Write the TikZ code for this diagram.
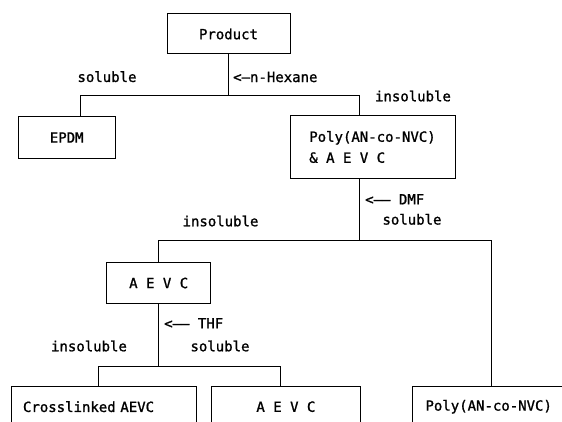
\documentclass[tikz,border=0pt]{standalone}
\usepackage{fontspec}
\newfontfamily\dmono[FakeBold=1.2]{DejaVu Sans Mono}
\begin{document}
\begin{tikzpicture}[x=1pt,y=1pt,
  every node/.style={font=\dmono\fontsize{14}{21}\selectfont},
  box/.style={draw,line width=1pt,rectangle,inner sep=0pt,align=center},
  lbl/.style={inner sep=0pt},
  conn/.style={line width=1pt}]
\useasboundingbox (0,0) rectangle (562,-422);
% boxes
\node[box,minimum width=123,minimum height=40] (prod) at (228.5,-34) {Product};
\node[box,minimum width=96.7,minimum height=41.6] (epdm) at (66.7,-137.5) {EPDM};
\node[box,minimum width=165,minimum height=62.3,align=left] (mix) at (372.5,-147) {Poly(AN-co-NVC)\\\& A E V C};
\node[box,minimum width=104,minimum height=40.6] (aevc) at (158.7,-283) {A E V C};
\node[box,minimum height=41.4,text width=162.4,inner xsep=11.3,align=left] (cross) at (104.2,-406.7) {Crosslinked AEVC};
\node[box,minimum width=148.3,minimum height=41.4] (aevcs) at (285.9,-406.7) {A E V C};
\node[box,minimum height=41.4,text width=150,inner xsep=13.3,align=left,anchor=west] (polyr) at (411.7,-406.7) {Poly(AN-co-NVC)};
% junction coordinates
\coordinate (j1) at (228.5,-96);
\coordinate (j1l) at (80,-96);
\coordinate (j1r) at (359.3,-96);
\coordinate (j2) at (359.3,-240);
\coordinate (j2l) at (158.7,-240);
\coordinate (j2r) at (491,-240);
\coordinate (j3) at (158.7,-366);
\coordinate (j3l) at (98.3,-366);
\coordinate (j3r) at (280,-366);
% connectors
\draw[conn] (prod.south) -- (j1);
\draw[conn] (j1l |- epdm.north) -- (j1l) -- (j1r) -- (j1r |- mix.north);
\draw[conn] (j2 |- mix.south) -- (j2);
\draw[conn] (aevc.north) -- (j2l) -- (j2r) -- (j2r |- polyr.north);
\draw[conn] (aevc.south) -- (j3);
\draw[conn] (j3l |- cross.north) -- (j3l) -- (j3r) -- (j3r |- aevcs.north);
% labels
\node[lbl] (l1) at (107,-76.7) {soluble};
\node[lbl,anchor=west] (l2) at (233,-77) {<—n-Hexane};
\node[lbl] (l3) at (413,-96) {insoluble};
\node[lbl,anchor=west] (l4) at (365,-199.3) {<—— DMF};
\node[lbl] (l5) at (412,-219.3) {soluble};
\node[lbl] (l6) at (220.5,-221) {insoluble};
\node[lbl,anchor=west] (l7) at (164,-323.3) {<—— THF};
\node[lbl] (l8) at (89,-346) {insoluble};
\node[lbl] (l9) at (220,-346) {soluble};
\end{tikzpicture}
\end{document}
